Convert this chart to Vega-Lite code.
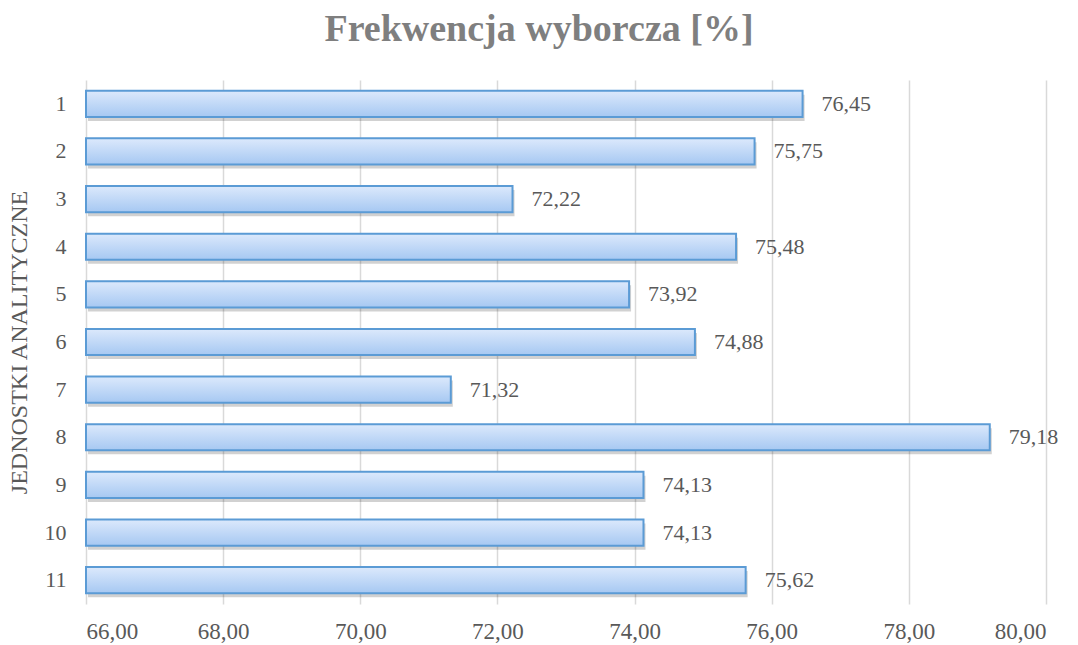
{
  "$schema": "https://vega.github.io/schema/vega-lite/v6.json",
  "width": 960,
  "height": 524,
  "autosize": "none",
  "padding": {"left": 86, "top": 80, "right": 32, "bottom": 41},
  "background": "white",
  "title": {
    "text": "Frekwencja wyborcza [%]",
    "font": "Liberation Serif",
    "fontSize": 38,
    "fontWeight": "bold",
    "color": "#7f7f7f",
    "anchor": "middle",
    "dx": -27,
    "offset": 31
  },
  "config": {
    "locale": {"number": {"decimal": ",", "thousands": " ", "grouping": [3], "currency": ["", " zł"]}},
    "view": {"stroke": null},
    "axis": {"labelFont": "Liberation Serif", "titleFont": "Liberation Serif", "labelColor": "#595959", "titleColor": "#595959"}
  },
  "data": {
    "values": [
      {"j": "1", "v": 76.45},
      {"j": "2", "v": 75.75},
      {"j": "3", "v": 72.22},
      {"j": "4", "v": 75.48},
      {"j": "5", "v": 73.92},
      {"j": "6", "v": 74.88},
      {"j": "7", "v": 71.32},
      {"j": "8", "v": 79.18},
      {"j": "9", "v": 74.13},
      {"j": "10", "v": 74.13},
      {"j": "11", "v": 75.62}
    ]
  },
  "encoding": {
    "y": {
      "field": "j",
      "type": "nominal",
      "sort": null,
      "scale": {"paddingInner": 0.45, "paddingOuter": 0.225},
      "axis": {
        "title": "JEDNOSTKI ANALITYCZNE",
        "titleFontSize": 24,
        "titleFontWeight": "normal",
        "titlePadding": 13,
        "labelFontSize": 22,
        "labelPadding": 20,
        "ticks": false,
        "domain": false
      }
    },
    "x": {
      "field": "v",
      "type": "quantitative",
      "scale": {"domain": [66, 80], "nice": false, "zero": false},
      "axis": {
        "title": null,
        "format": ".2f",
        "values": [66, 68, 70, 72, 74, 76, 78, 80],
        "labelFontSize": 23,
        "labelPadding": 16,
        "ticks": false,
        "domain": false,
        "grid": true,
        "gridColor": "#d9d9d9",
        "gridWidth": 1.5
      }
    }
  },
  "layer": [
    {
      "mark": {"type": "bar", "color": "#000000", "opacity": 0.18, "yOffset": 4, "xOffset": 2, "x2Offset": 2},
      "encoding": {"x2": {"datum": 66}}
    },
    {
      "mark": {
        "type": "bar",
        "fill": {
          "gradient": "linear",
          "x1": 0, "y1": 0, "x2": 0, "y2": 1,
          "stops": [
            {"offset": 0, "color": "#dce9fc"},
            {"offset": 1, "color": "#a6c8f2"}
          ]
        },
        "stroke": "#5b9bd5",
        "strokeWidth": 2
      },
      "encoding": {"x2": {"datum": 66}}
    },
    {
      "mark": {"type": "text", "align": "left", "dx": 19, "font": "Liberation Serif", "fontSize": 22, "color": "#595959"},
      "encoding": {"text": {"field": "v", "type": "quantitative", "format": ".2f"}}
    }
  ]
}
